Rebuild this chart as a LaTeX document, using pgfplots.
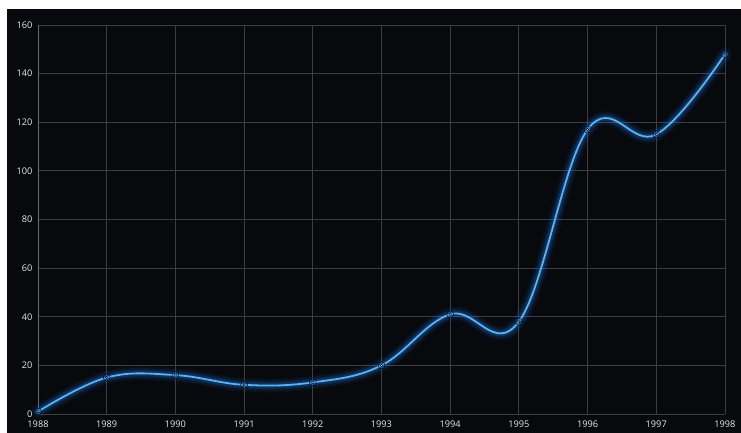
\documentclass[border=0pt]{standalone}
\usepackage{pgfplots}
\pgfplotsset{compat=1.18}
\usepackage{pgfplotstable}
\usepackage{fontspec}
\setmainfont{Open Sans}
\definecolor{bgc}{HTML}{07090D}
\definecolor{gridc}{HTML}{3C3D40}
\definecolor{axc}{HTML}{6A6B6E}
\definecolor{linec}{HTML}{5AB2F2}
\definecolor{glowc}{HTML}{1C78E0}
\definecolor{labc}{HTML}{E8E8E8}
\pgfplotstableread{
year value
1988 1
1989 15
1990 16
1991 12
1992 13
1993 20
1994 41
1995 38
1996 117
1997 115
1998 148
}\datatable
\begin{document}
\begin{tikzpicture}[x=1pt,y=1pt]
\fill[white] (0,0) rectangle (741,433);
\fill[bgc] (7,0) rectangle (741,424);
\begin{axis}[
  at={(38pt,19pt)}, anchor=south west,
  scale only axis, width=687pt, height=389pt,
  xmin=1988, xmax=1998, ymin=0, ymax=160,
  xtick={1988,...,1998}, ytick={0,20,...,160},
  grid=major, grid style={color=gridc, line width=0.8pt},
  axis x line*=bottom, axis y line*=left,
  x axis line style={color=gridc, line width=0.8pt, -},
  y axis line style={color=axc, line width=0.8pt, -},
  major tick length=0pt,
  tick style={draw=none},
  /pgf/number format/assume math mode=true,
  /pgf/number format/1000 sep={},
  ticklabel style={font=\fontsize{9.2}{10}\selectfont, text=labc},
  xticklabel style={yshift=-3.5pt},
  yticklabel style={xshift=-2pt},
  clip=false,
]
\addplot[glowc, line width=14pt, opacity=0.06, smooth, tension=0.65, line cap=round] table[x=year,y=value]{\datatable};
\addplot[glowc, line width=11pt, opacity=0.08, smooth, tension=0.65, line cap=round] table[x=year,y=value]{\datatable};
\addplot[glowc, line width=8pt, opacity=0.12, smooth, tension=0.65, line cap=round] table[x=year,y=value]{\datatable};
\addplot[glowc, line width=5.5pt, opacity=0.18, smooth, tension=0.65, line cap=round] table[x=year,y=value]{\datatable};
\addplot[linec, line width=1.8pt, smooth, tension=0.65] table[x=year,y=value]{\datatable};
\addplot[only marks, mark=*, mark size=3.5pt, draw=none, fill=glowc, fill opacity=0.35] table[x=year,y=value]{\datatable};
\addplot[only marks, mark=*, mark size=1.2pt, draw=none, fill={rgb,255:red,235;green,245;blue,255}] table[x=year,y=value]{\datatable};
\end{axis}
\end{tikzpicture}
\end{document}
